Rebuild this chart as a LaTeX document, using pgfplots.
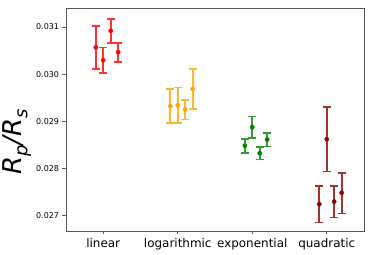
\documentclass[border=0pt]{standalone}
\usepackage{fontspec}
\setmainfont{DejaVu Sans}
\usepackage{pgfplots}
\pgfplotsset{compat=1.18}
\definecolor{mpred}{RGB}{255,0,0}
\definecolor{mporange}{RGB}{255,165,0}
\definecolor{mpgreen}{RGB}{0,128,0}
\definecolor{mpdarkred}{RGB}{139,0,0}
\pgfplotsset{
  myerr/.style={color=#1, only marks, mark=*, mark size=2.1bp,
    mark options={fill=#1, draw=#1, solid},
    error bars/y dir=both, error bars/y explicit,
    error bars/error bar style={draw=#1!80!white, line width=1.8bp, solid},
    error bars/error mark options={rotate=90, mark size=4bp, draw=#1!80!white, line width=1.6bp}},
}
\begin{document}
\begin{tikzpicture}
\useasboundingbox (-66bp,-24bp) rectangle (308bp,231bp);
\begin{axis}[
  at={(0,0)}, anchor=south west,
  scale only axis, width=298bp, height=223bp,
  xmin=-0.5, xmax=3.5, ymin=0.02668, ymax=0.031404,
  xtick={0,1,2,3},
  xticklabels={linear,logarithmic,exponential,quadratic},
  ytick={0.027,0.028,0.029,0.030,0.031},
  scaled y ticks=false,
  yticklabel style={font=\fontsize{8}{10}\selectfont, /pgf/number format/fixed, /pgf/number format/precision=3, /pgf/number format/zerofill},
  /pgf/number format/assume math mode=true,
  xticklabel style={font=\fontsize{12}{14}\selectfont},
  tick align=outside, tick pos=left,
  major tick length=3.5bp,
  axis line style={black!65, line width=0.8bp},
  tick style={black!65, line width=0.8bp},
  ylabel={\fontsize{26}{30}\selectfont\itshape R\raisebox{-0.22em}{\fontsize{18}{20}\selectfont p}/R\raisebox{-0.22em}{\fontsize{18}{20}\selectfont s}},
  ylabel style={at={(axis description cs:-0.165,0.40)}, anchor=center},
]
\addplot[myerr=mpred] table[x=x, y=y, y error plus=ep, y error minus=em] {
x y ep em
-0.1 0.030568 0.000453 0.000462
0.0 0.030298 0.000270 0.000270
0.1 0.030922 0.000255 0.000256
0.2 0.030468 0.000198 0.000206
};
\addplot[myerr=mporange] table[x=x, y=y, y error plus=ep, y error minus=em] {
x y ep em
0.9 0.029326 0.000362 0.000362
1.0 0.029347 0.000376 0.000383
1.1 0.029255 0.000206 0.000212
1.2 0.029688 0.000418 0.000426
};
\addplot[myerr=mpgreen] table[x=x, y=y, y error plus=ep, y error minus=em] {
x y ep em
1.9 0.028489 0.000135 0.000155
2.0 0.028879 0.000227 0.000226
2.1 0.028326 0.000136 0.000128
2.2 0.028617 0.000142 0.000149
};
\addplot[myerr=mpdarkred] table[x=x, y=y, y error plus=ep, y error minus=em] {
x y ep em
2.9 0.027248 0.000390 0.000390
3.0 0.028624 0.000680 0.000680
3.1 0.027304 0.000328 0.000340
3.2 0.027489 0.000419 0.000440
};
\end{axis}
\end{tikzpicture}
\end{document}
